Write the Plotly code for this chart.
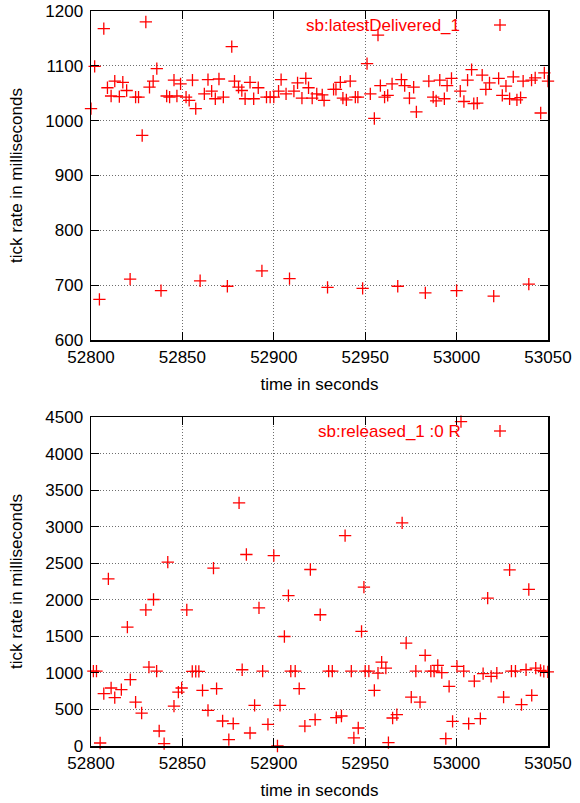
import plotly.graph_objects as go
from plotly.subplots import make_subplots

# ---- data: top panel (sb:latestDelivered_1) ----
top_time = [52800, 52802, 52807, 52809, 52811, 52813, 52815.5, 52817.4, 52819.5, 52824.4,
            52826, 52828, 52830, 52832, 52834, 52836, 52841.4, 52843, 52845.4, 52847,
            52849, 52852, 52853.7, 52855.5, 52857.3, 52862, 52864, 52866, 52868, 52870,
            52872.4, 52877, 52878.5, 52880.7, 52882.5, 52884.3, 52887, 52889, 52891.5, 52896,
            52898, 52900, 52902.6, 52904, 52906.7, 52911, 52913, 52915.4, 52917.5, 52919,
            52921, 52923.5, 52926.5, 52927.5, 52932.7, 52934, 52936.4, 52937.8, 52939.7, 52941.8,
            52944.6, 52946, 52951, 52952.8, 52955, 52957, 52958.3, 52960.6, 52962.3, 52964.7,
            52969.8, 52971.6, 52974.2, 52976.5, 52978, 52984.8, 52987.2, 52988.8, 52990.8, 52993.3,
            52994.8, 52997.2, 53002, 53004, 53006, 53008.2, 53009.4, 53011.3, 53014, 53016,
            53018, 53023, 53025, 53027, 53029, 53031, 53033, 53035, 53036.4, 53041,
            53043, 53046, 53048, 53050,
            52804.6, 52821.4, 52838.3, 52859.7, 52874.6, 52893.5, 52908.6, 52929.4, 52948.6, 52967.8,
            52982.9, 53000, 53020.3, 53039.5]
top_rate = [1022, 1099, 1168, 1060, 1045, 1072, 1044, 1070, 1055, 1043,
            1043, 973, 1180, 1061, 1072, 1095, 1045, 1043, 1074, 1045,
            1067, 1043, 1037, 1074, 1022, 1049, 1075, 1054, 1040, 1076,
            1043, 1135, 1072, 1061, 1055, 1040, 1070, 1040, 1060, 1043,
            1043, 1043, 1054, 1075, 1049, 1054, 1069, 1041, 1077, 1060,
            1041, 1049, 1047, 1037, 1057, 1057, 1070, 1041, 1038, 1072,
            1043, 1043, 1104, 1049, 1004, 1156, 1064, 1043, 1046, 1067,
            1075, 1064, 1041, 1061, 1016, 1072, 1043, 1036, 1074, 1040,
            1064, 1077, 1054, 1035, 1074, 1093, 1031, 1032, 1083, 1057,
            1069, 1077, 1046, 1063, 1040, 1080, 1038, 1042, 1072, 1074,
            1078, 1014, 1087, 1072,
            674, 711, 690, 708, 698, 726, 712, 696, 694, 698,
            686, 690, 680, 702]

# ---- data: bottom panel (sb:released_1 :0 R) ----
bot_time = [52801.3, 52803, 52805, 52807, 52809.5, 52811, 52813, 52816.6, 52819.9, 52821.5,
            52824.4, 52827.7, 52830, 52831.7, 52834.2, 52835.9, 52837.3, 52840, 52842, 52845.4,
            52847.8, 52849.6, 52852.4, 52855.4, 52857.3, 52859, 52861, 52864, 52867, 52868.7,
            52872, 52875.4, 52877.8, 52881, 52882.7, 52885, 52887, 52889.5, 52891.9, 52893.9,
            52896.8, 52900, 52902, 52903.4, 52905.8, 52908, 52909.3, 52911.7, 52913.9, 52917,
            52920, 52922.6, 52925.4, 52930, 52932, 52934.2, 52937, 52939, 52942.4, 52943.8,
            52946.2, 52948, 52949.3, 52950, 52952, 52955, 52957, 52959, 52961.3, 52962.7,
            52965, 52967.3, 52970.2, 52972.4, 52975.2, 52977.7, 52980, 52982.8, 52985.9, 52987.7,
            52989.7, 52991.9, 52994.1, 52995.9, 52997.8, 53000.2, 53002.4, 53003.9, 53006.6, 53009.7,
            53013, 53014.5, 53017, 53018.9, 53022, 53025.7, 53029, 53030, 53032.2, 53035.5,
            53038, 53039.5, 53041.1, 53043.3, 53045.9, 53047.7, 53049.9]
bot_rate = [1025, 1025, 41, 716, 2287, 793, 661, 770, 1626, 907,
            601, 451, 1863, 1079, 2004, 1025, 205, 33, 2514, 546,
            738, 793, 1863, 1020, 1020, 1020, 761, 488, 2432, 784,
            342, 87, 306, 3325, 1043, 2619, 178, 556, 1890, 1025,
            296, 2605, 0, 556, 1498, 2058, 1025, 1025, 784, 273,
            2414, 360, 1795, 1025, 1025, 388, 410, 2878, 1025, 110,
            246, 1567, 2172, 1025, 1025, 761, 998, 1148, 1066, 46,
            383, 429, 3052, 1407, 669, 1025, 601, 1239, 1025, 1025,
            1102, 1003, 101, 815, 337, 1089, 4436, 1025, 306, 888,
            374, 989, 2022, 952, 998, 669, 2410, 1025, 1025, 565,
            1043, 2141, 693, 1066, 1034, 1020, 1015]

top_label = "sb:latestDelivered_1"
bot_label = "sb:released_1 :0 R"
x_range = [52800, 53050]
top_y_range = [600, 1200]
bot_y_range = [0, 4500]

RED = "#ff0000"
FONT = "Liberation Sans, Arial, Helvetica, sans-serif"
W, H = 580, 803

fig = make_subplots(rows=2, cols=1)

marker = dict(symbol="cross-thin", size=8.8, color=RED, line=dict(color=RED, width=1.3))
fig.add_trace(go.Scatter(x=top_time, y=top_rate, mode="markers", marker=marker,
                         cliponaxis=False, showlegend=False, hoverinfo="skip"), row=1, col=1)
fig.add_trace(go.Scatter(x=bot_time, y=bot_rate, mode="markers", marker=marker,
                         cliponaxis=False, showlegend=False, hoverinfo="skip"), row=2, col=1)

xdom = [91 / W, 548 / W]
top_dom = [1 - 340 / H, 1 - 11 / H]
bot_dom = [1 - 746 / H, 1 - 417 / H]

axis_common = dict(
    showline=True, linecolor="black", linewidth=1.5, mirror="ticks",
    ticks="inside", ticklen=8, tickwidth=1, tickcolor="black",
    showgrid=True, gridcolor="#6e6e6e", gridwidth=1, griddash="1px,2px",
    zeroline=False, tickfont=dict(family=FONT, size=17, color="black"),
    automargin=False, tickformat="d",
)

fig.update_xaxes(range=x_range, dtick=50, tick0=52800, domain=xdom, ticklabelstandoff=1,
                 **axis_common,
                 title=dict(text="time in seconds", font=dict(family=FONT, size=17, color="black"),
                            standoff=12))
fig.update_yaxes(ticklabelstandoff=3, **axis_common,
                 title=dict(text="tick rate in milliseconds", font=dict(family=FONT, size=17, color="black"),
                            standoff=18))
fig.update_yaxes(range=top_y_range, dtick=100, domain=top_dom, row=1, col=1)
fig.update_yaxes(range=bot_y_range, dtick=500, domain=bot_dom, row=2, col=1)

shapes = []
annotations = []
for label, ytop, ykey, xend in [(top_label, top_dom[1], 1 - 25 / H, 462 / W),
                                 (bot_label, bot_dom[1], 1 - 431 / H, 463 / W)]:
    # key area clears the grid (as gnuplot does)
    shapes.append(dict(type="rect", xref="paper", yref="paper", x0=268 / W, x1=522 / W,
                       y0=ytop - 24 / H, y1=ytop, fillcolor="white", line=dict(width=0),
                       layer="between"))
    annotations.append(dict(text=label, xref="paper", yref="paper", x=xend, y=ykey,
                            xanchor="right", yanchor="middle", showarrow=False,
                            font=dict(family=FONT, size=17, color=RED)))
    cx, dx, dy = 500 / W, 6 / W, 6 / H
    shapes.append(dict(type="line", xref="paper", yref="paper", x0=cx - dx, x1=cx + dx,
                       y0=ykey, y1=ykey, line=dict(color=RED, width=1.3)))
    shapes.append(dict(type="line", xref="paper", yref="paper", x0=cx, x1=cx,
                       y0=ykey - dy, y1=ykey + dy, line=dict(color=RED, width=1.3)))

fig.update_layout(width=W, height=H, margin=dict(l=0, r=0, t=0, b=0),
                  plot_bgcolor="white", paper_bgcolor="white", hovermode=False,
                  shapes=shapes, annotations=annotations, showlegend=False)

fig.write_html("out.html", config={"displayModeBar": False, "staticPlot": True},
               post_script="document.body.style.margin='0';document.body.style.overflow='hidden';")
